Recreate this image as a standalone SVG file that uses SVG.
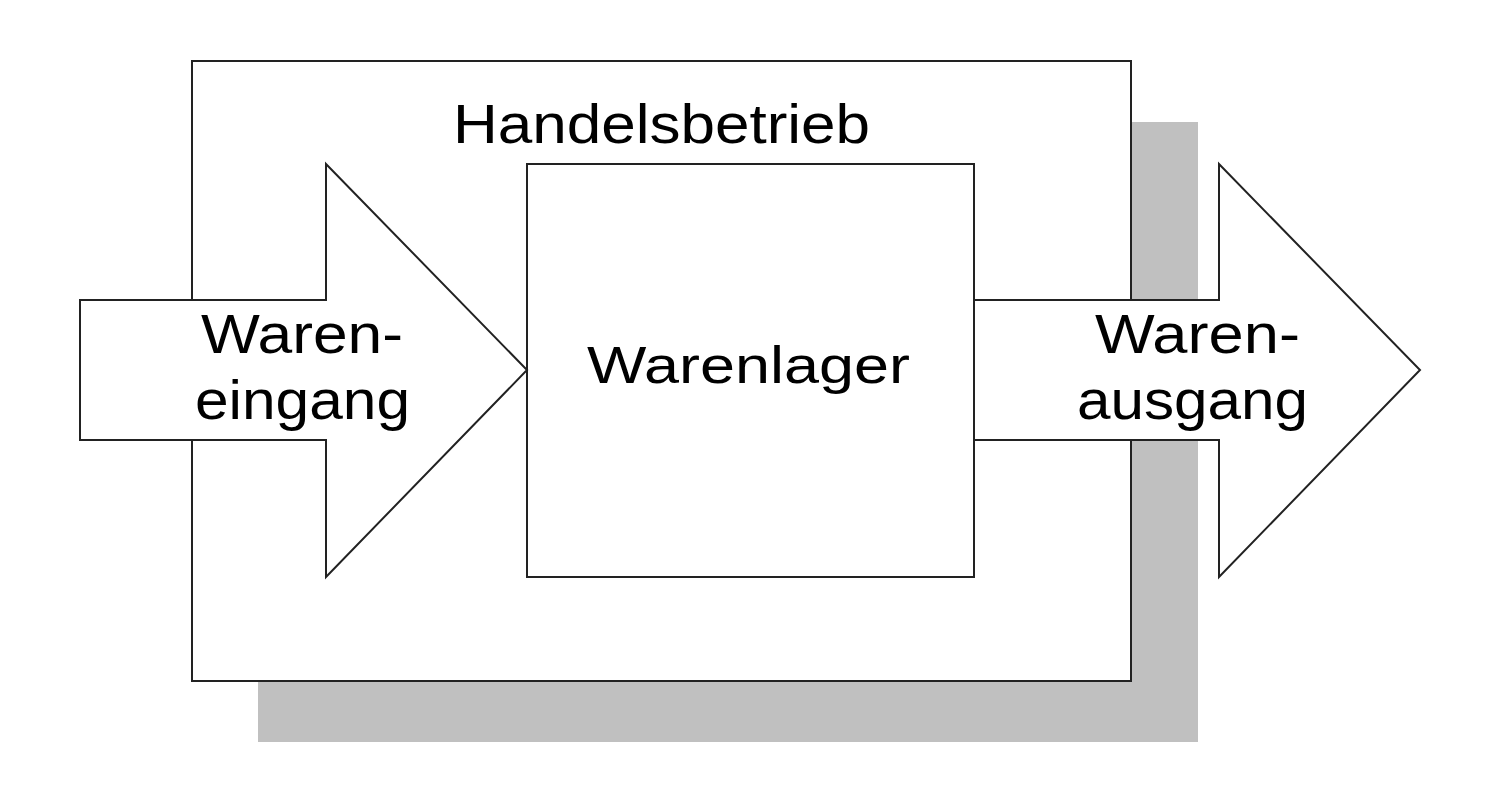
<svg xmlns="http://www.w3.org/2000/svg" width="1492" height="792" viewBox="0 0 1492 792">
<style>
.box{fill:#ffffff;stroke:#222222;stroke-width:2}
.arrow{fill:#ffffff;stroke:#222222;stroke-width:2;stroke-linejoin:miter}
.shadow{fill:#c0c0c0;stroke:none}
.lbl{font-family:"Liberation Sans",Arial,sans-serif;fill:#000000}
</style>
<rect width="1492" height="792" fill="#ffffff"/>
<g id="handelsbetrieb">
<rect class="shadow" x="258" y="122" width="940" height="620"/>
<rect class="box" x="192" y="61" width="939" height="620"/>
<text class="lbl" x="453" y="143" font-size="56" textLength="417" lengthAdjust="spacingAndGlyphs">Handelsbetrieb</text>
</g>
<g id="warenlager">
<rect class="box" x="527" y="164" width="447" height="413"/>
<text class="lbl" x="587" y="383" font-size="52" textLength="323" lengthAdjust="spacingAndGlyphs">Warenlager</text>
</g>
<g id="connectors">
<g id="wareneingang">
<polygon class="arrow" points="80,300 326,300 326,164 527,370 326,577 326,440 80,440"/>
<text class="lbl" x="201" y="353" font-size="56" textLength="202" lengthAdjust="spacingAndGlyphs">Waren-</text>
<text class="lbl" x="195" y="419" font-size="56" textLength="215" lengthAdjust="spacingAndGlyphs">eingang</text>
</g>
<g id="warenausgang">
<polygon class="arrow" points="974,300 1219,300 1219,164 1420,370 1219,577 1219,440 974,440"/>
<text class="lbl" x="1095" y="353" font-size="56" textLength="205" lengthAdjust="spacingAndGlyphs">Waren-</text>
<text class="lbl" x="1077" y="419" font-size="56" textLength="231" lengthAdjust="spacingAndGlyphs">ausgang</text>
</g>
</g>
</svg>
